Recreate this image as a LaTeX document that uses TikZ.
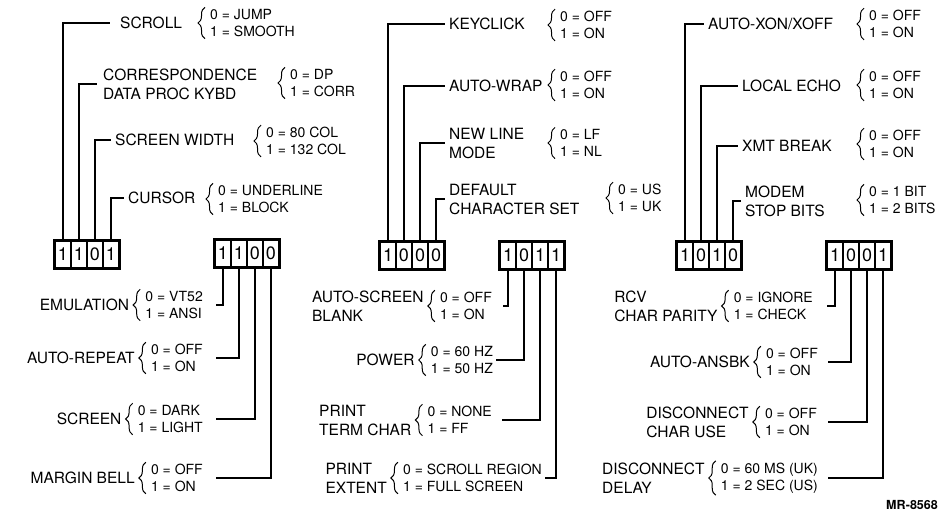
\documentclass[tikz,border=0pt]{standalone}
\usepackage{fontspec}
\setmainfont{TeX Gyre Heros}
\usetikzlibrary{decorations.pathreplacing}
\newcommand\bitbox[7]{%
  \node[cell] (#1-1) at ({#2+8},{#3+13.5}) {#4};
  \node[cell] (#1-2) at ({#2+24},{#3+13.5}) {#5};
  \node[cell] (#1-3) at ({#2+40},{#3+13.5}) {#6};
  \node[cell] (#1-4) at ({#2+56},{#3+13.5}) {#7};
  \draw[boxline] (#1-1.north west) rectangle (#1-4.south east);
}
\newcommand\optbrace[1]{\draw[brc] ([xshift=-5pt]#1.south west) -- ([xshift=-5pt]#1.north west);}
\begin{document}
\begin{tikzpicture}[x=1pt,y=-1pt,
  lbl/.style={font=\fontsize{15.5}{19}\selectfont, inner sep=0pt, align=left},
  opt/.style={font=\fontsize{14}{17.5}\selectfont, inner xsep=0pt, inner ysep=1.5pt, align=left},
  cell/.style={draw, fill=white, line width=1.2pt, minimum width=16pt, minimum height=27pt, inner sep=0pt, font=\fontsize{18}{18}\selectfont},
  boxline/.style={line width=2.8pt},
  leader/.style={line width=1.5pt, shorten >=4pt},
  brc/.style={decorate, decoration={brace, amplitude=7pt}, line width=1pt},
  tag/.style={font=\bfseries\fontsize{12.5}{14}\selectfont, inner sep=0pt}
]
\fill[white] (0,0) rectangle (940,520);
\useasboundingbox (0,0) rectangle (940,520);

% ---------- bit boxes ----------
\bitbox{bA}{55}{241}{1}{1}{0}{1}
\bitbox{bB}{215}{240}{1}{1}{0}{0}
\bitbox{bC}{380}{242}{1}{0}{0}{0}
\bitbox{bD}{500}{242}{1}{0}{1}{1}
\bitbox{bE}{677}{242}{1}{0}{1}{0}
\bitbox{bF}{827}{242}{1}{0}{0}{1}

% ---------- group A (top left) ----------
\node[lbl, anchor=west] (lA1) at (120,23) {SCROLL};
\node[opt, anchor=west] (oA1) at (210,23) {0 = JUMP\\1 = SMOOTH};
\node[lbl, anchor=west] (lA2) at (103,84) {CORRESPONDENCE\\DATA PROC KYBD};
\node[opt, anchor=west] (oA2) at (290,83) {0 = DP\\1 = CORR};
\node[lbl, anchor=west] (lA3) at (115,140) {SCREEN WIDTH};
\node[opt, anchor=west] (oA3) at (266,141) {0 = 80 COL\\1 = 132 COL};
\node[lbl, anchor=west] (lA4) at (128,198) {CURSOR};
\node[opt, anchor=west] (oA4) at (218,199) {0 = UNDERLINE\\1 = BLOCK};
\foreach \o in {oA1,oA2,oA3,oA4} {\optbrace{\o}}
\draw[leader, shorten >=10pt] (bA-1.north) |- (lA1.west);
\draw[leader, shorten >=6pt] (bA-2.north) |- (lA2.west);
\draw[leader] (bA-3.north) |- (lA3.west);
\draw[leader] (bA-4.north) |- (lA4.west);

% ---------- group C (top middle) ----------
\node[lbl, anchor=west] (lC1) at (449,24) {KEYCLICK};
\node[opt, anchor=west] (oC1) at (560,25) {0 = OFF\\1 = ON};
\node[lbl, anchor=west] (lC2) at (449,86) {AUTO-WRAP};
\node[opt, anchor=west] (oC2) at (560,85) {0 = OFF\\1 = ON};
\node[lbl, anchor=west] (lC3) at (449,143) {NEW LINE\\MODE};
\node[opt, anchor=west] (oC3) at (560,143) {0 = LF\\1 = NL};
\node[lbl, anchor=west] (lC4) at (449,199) {DEFAULT\\CHARACTER SET};
\node[opt, anchor=west] (oC4) at (618,198) {0 = US\\1 = UK};
\foreach \o in {oC1,oC2,oC3,oC4} {\optbrace{\o}}
\draw[leader] (bC-1.north) |- (lC1.west);
\draw[leader] (bC-2.north) |- (lC2.west);
\draw[leader] (bC-3.north) |- (lC3.west);
\draw[leader] (bC-4.north) |- (lC4.west);

% ---------- group E (top right) ----------
\node[lbl, anchor=west] (lE1) at (708,24) {AUTO-XON/XOFF};
\node[opt, anchor=west] (oE1) at (869,24) {0 = OFF\\1 = ON};
\node[lbl, anchor=west] (lE2) at (742,86) {LOCAL ECHO};
\node[opt, anchor=west] (oE2) at (869,85) {0 = OFF\\1 = ON};
\node[lbl, anchor=west] (lE3) at (742,146) {XMT BREAK};
\node[opt, anchor=west] (oE3) at (869,144) {0 = OFF\\1 = ON};
\node[lbl, anchor=west] (lE4) at (745,201) {MODEM\\STOP BITS};
\node[opt, anchor=west] (oE4) at (869,200) {0 = 1 BIT\\1 = 2 BITS};
\foreach \o in {oE1,oE2,oE3,oE4} {\optbrace{\o}}
\draw[leader] (bE-1.north) |- (lE1.west);
\draw[leader] (bE-2.north) |- (lE2.west);
\draw[leader] (bE-3.north) |- (lE3.west);
\draw[leader] (bE-4.north) |- (lE4.west);

% ---------- group B (bottom left) ----------
\node[opt, anchor=east] (oB1) at (203,305) {0 = VT52\\1 = ANSI};
\node[opt, anchor=east] (oB2) at (203,358) {0 = OFF\\1 = ON};
\node[opt, anchor=east] (oB3) at (203,419) {0 = DARK\\1 = LIGHT};
\node[opt, anchor=east] (oB4) at (203,478) {0 = OFF\\1 = ON};
\node[lbl, anchor=east] (lB1) at ([xshift=-16pt]oB1.west) {EMULATION};
\node[lbl, anchor=east] (lB2) at ([xshift=-16pt]oB2.west) {AUTO-REPEAT};
\node[lbl, anchor=east] (lB3) at ([xshift=-16pt]oB3.west) {SCREEN};
\node[lbl, anchor=east] (lB4) at ([xshift=-16pt]oB4.west) {MARGIN BELL};
\foreach \o in {oB1,oB2,oB3,oB4} {\optbrace{\o}}
\draw[leader, shorten >=13pt] (bB-1.south) |- (oB1.east);
\draw[leader, shorten >=13pt] (bB-2.south) |- (oB2.east);
\draw[leader, shorten >=13pt] (bB-3.south) |- (oB3.east);
\draw[leader, shorten >=13pt] (bB-4.south) |- (oB4.east);

% ---------- group D (bottom middle) ----------
\node[opt, anchor=east] (oD1) at (492,306) {0 = OFF\\1 = ON};
\node[opt, anchor=east] (oD2) at (493,360) {0 = 60 HZ\\1 = 50 HZ};
\node[opt, anchor=east] (oD3) at (492,420) {0 = NONE\\1 = FF};
\node[opt, anchor=east] (oD4) at (542,478) {0 = SCROLL REGION\\1 = FULL SCREEN};
\node[lbl, anchor=east] (lD1) at ([xshift=-16pt]oD1.west) {AUTO-SCREEN\\BLANK};
\node[lbl, anchor=east] (lD2) at ([xshift=-16pt]oD2.west) {POWER};
\node[lbl, anchor=east] (lD3) at ([xshift=-16pt]oD3.west) {PRINT\\TERM CHAR};
\node[lbl, anchor=east] (lD4) at ([xshift=-16pt]oD4.west) {PRINT\\EXTENT};
\foreach \o in {oD1,oD2,oD3,oD4} {\optbrace{\o}}
\draw[leader, shorten >=11pt] (bD-1.south) |- (oD1.east);
\draw[leader, shorten >=3pt] (bD-2.south) |- (oD2.east);
\draw[leader, shorten >=10pt] (bD-3.south) |- (oD3.east);
\draw[leader, shorten >=3pt] (bD-4.south) |- (oD4.east);

% ---------- group F (bottom right) ----------
\node[opt, anchor=east] (oF1) at (813,306) {0 = IGNORE\\1 = CHECK};
\node[opt, anchor=east] (oF2) at (818,362) {0 = OFF\\1 = ON};
\node[opt, anchor=east] (oF3) at (817,422) {0 = OFF\\1 = ON};
\node[opt, anchor=east] (oF4) at (818,478) {0 = 60 MS (UK)\\1 = 2 SEC (US)};
\node[lbl, anchor=east] (lF1) at ([xshift=-16pt]oF1.west) {RCV\\CHAR PARITY};
\node[lbl, anchor=east] (lF2) at ([xshift=-16pt]oF2.west) {AUTO-ANSBK};
\node[lbl, anchor=east] (lF3) at ([xshift=-16pt]oF3.west) {DISCONNECT\\CHAR USE};
\node[lbl, anchor=east] (lF4) at ([xshift=-16pt]oF4.west) {DISCONNECT\\DELAY};
\foreach \o in {oF1,oF2,oF3,oF4} {\optbrace{\o}}
\draw[leader, shorten >=14pt] (bF-1.south) |- (oF1.east);
\draw[leader, shorten >=10pt] (bF-2.south) |- (oF2.east);
\draw[leader, shorten >=11pt] (bF-3.south) |- (oF3.east);
\draw[leader, shorten >=10pt] (bF-4.south) |- (oF4.east);

\node[tag, anchor=east] (mr) at (938,505) {MR-8568};
\end{tikzpicture}
\end{document}
